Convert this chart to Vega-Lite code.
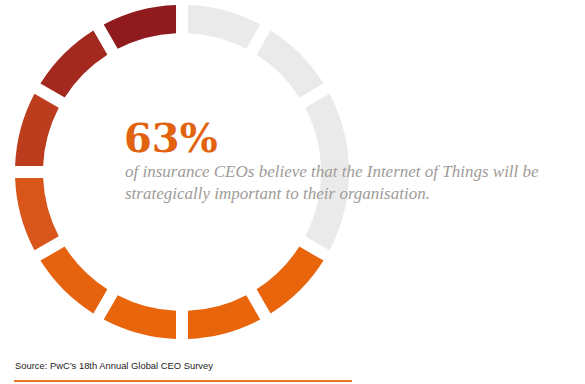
{
  "$schema": "https://vega.github.io/schema/vega-lite/v6.json",
  "width": 364,
  "height": 344,
  "autosize": {"type": "none"},
  "padding": {"left": 0, "top": 0, "right": 221, "bottom": 40},
  "background": "white",
  "config": {"view": {"stroke": null}},
  "layer": [
    {
      "data": {"values": [
        {"seg": 1, "size": 30},
        {"seg": 2, "size": 30},
        {"seg": 3, "size": 60},
        {"seg": 4, "size": 30},
        {"seg": 5, "size": 30},
        {"seg": 6, "size": 30},
        {"seg": 7, "size": 30},
        {"seg": 8, "size": 30},
        {"seg": 9, "size": 30},
        {"seg": 10, "size": 30},
        {"seg": 11, "size": 30}
      ]},
      "mark": {"type": "arc", "innerRadius": 139, "outerRadius": 167, "padAngle": 0.055},
      "encoding": {
        "theta": {"field": "size", "type": "quantitative", "stack": true},
        "order": {"field": "seg", "type": "quantitative"},
        "color": {
          "field": "seg", "type": "nominal", "legend": null,
          "scale": {
            "domain": [1, 2, 3, 4, 5, 6, 7, 8, 9, 10, 11],
            "range": ["#eaeaea", "#eaeaea", "#eaeaea", "#e8650c", "#e8650c", "#e8650c", "#e5630e", "#d85619", "#bb3d1e", "#a3291f", "#8f1b1f"]
          }
        }
      }
    },
    {
      "data": {"values": [{"t": "63%"}]},
      "mark": {"type": "text", "font": "DejaVu Serif", "fontWeight": "bold", "fontSize": 40, "color": "#e2630f", "align": "left", "baseline": "alphabetic"},
      "encoding": {"text": {"field": "t"}, "x": {"value": 124}, "y": {"value": 152}}
    },
    {
      "data": {"values": [{"t": "of insurance CEOs believe that the Internet of Things will be|strategically important to their organisation."}]},
      "mark": {"type": "text", "font": "Liberation Serif", "fontStyle": "italic", "fontSize": 17, "lineHeight": 22, "lineBreak": "|", "color": "#a09b97", "align": "left", "baseline": "alphabetic"},
      "encoding": {"text": {"field": "t"}, "x": {"value": 125}, "y": {"value": 177}}
    },
    {
      "data": {"values": [{"t": "Source: PwC\u2019s 18th Annual Global CEO Survey"}]},
      "mark": {"type": "text", "font": "Liberation Sans", "fontSize": 9.4, "color": "#222222", "align": "left", "baseline": "alphabetic"},
      "encoding": {"text": {"field": "t"}, "x": {"value": 15}, "y": {"value": 369}}
    },
    {
      "data": {"values": [{}]},
      "mark": {"type": "rule", "color": "#e9762c", "strokeWidth": 2},
      "encoding": {"x": {"value": 14}, "x2": {"value": 352}, "y": {"value": 381}}
    }
  ]
}
